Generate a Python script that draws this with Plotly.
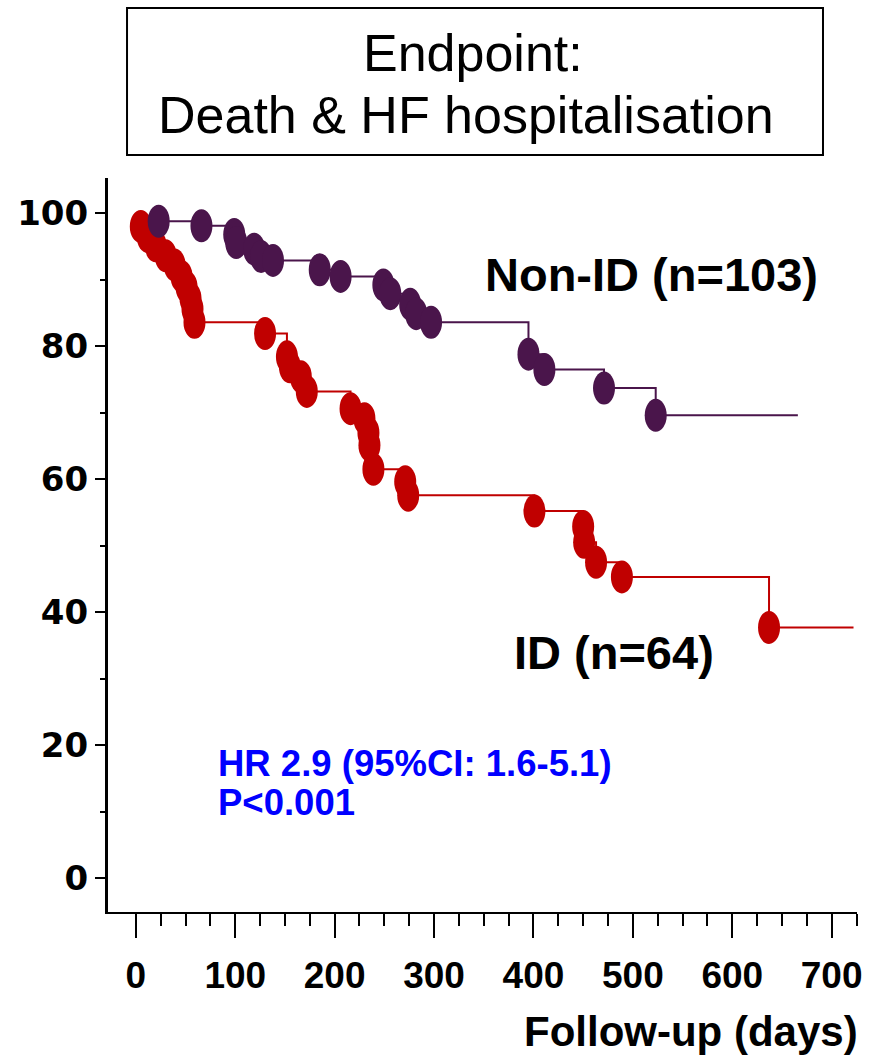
import plotly.graph_objects as go

# Kaplan-Meier style event-free survival (%), event times in days
id_days = [5, 12, 20, 30, 39, 46, 51, 55, 57, 59, 130, 152, 155, 166, 172,
           216, 230, 234, 235, 239, 271, 274, 401, 450, 451, 463, 489, 637]
id_surv = [98.0, 96.5, 95.1, 93.6, 92.2, 90.5, 88.9, 87.2, 85.6, 83.6, 81.9, 78.4,
           76.9, 75.4, 73.2, 70.6, 69.1, 67.0, 65.1, 61.5, 59.6, 57.6, 55.2, 52.9,
           50.5, 47.5, 45.3, 37.7]
id_last_day = 722

nonid_days = [23, 66, 99, 101, 119, 126, 138, 185, 206, 249, 256, 276, 282, 297,
              395, 411, 471, 523]
nonid_surv = [98.8, 98.1, 96.8, 95.6, 94.6, 93.5, 92.9, 91.5, 90.5, 89.2, 87.9,
              86.3, 84.9, 83.6, 78.8, 76.5, 73.7, 69.6]
nonid_last_day = 666

x_ticks = [0, 100, 200, 300, 400, 500, 600, 700]
x_minor_ticks = [d for d in range(25, 726, 25) if d % 100 != 0]
y_ticks = [0, 20, 40, 60, 80, 100]
y_minor_ticks = [10, 30, 50, 70, 90]

RED = "#C00000"
PURPLE = "#4A154B"
BLUE = "#0000FF"
SANS = "Liberation Sans, Arial, sans-serif"

fig = go.Figure()

groups = [
    (id_days, id_surv, id_last_day, RED),
    (nonid_days, nonid_surv, nonid_last_day, PURPLE),
]

for days, surv, last_day, color in groups:
    fig.add_trace(go.Scatter(
        x=days + [last_day], y=surv + [surv[-1]],
        mode="lines", line=dict(shape="hv", color=color, width=2),
        showlegend=False, hoverinfo="skip",
    ))
    # elliptical event markers anchored at each (day, survival) point
    for t, s in zip(days, surv):
        fig.add_shape(
            type="circle", xref="x", yref="y",
            xsizemode="pixel", ysizemode="pixel",
            xanchor=t, yanchor=s, x0=-11, x1=11, y0=-16.5, y1=16.5,
            fillcolor=color, line=dict(width=0), layer="above",
        )

# title box
fig.add_shape(type="rect", xref="paper", yref="paper",
              x0=0.0254, x1=0.9546, y0=1.0313, y1=1.2316,
              line=dict(color="black", width=2), fillcolor="white")

annotations = [
    dict(text="Endpoint:", xref="paper", yref="paper", x=0.4873, y=1.1703,
         xanchor="center", yanchor="middle",
         font=dict(family=SANS, size=52, color="black")),
    dict(text="Death &amp; HF hospitalisation", xref="paper", yref="paper",
         x=0.478, y=1.0858, xanchor="center", yanchor="middle",
         font=dict(family=SANS, size=52, color="black")),
    dict(text="Non-ID (n=103)", xref="x", yref="y", x=518.6, y=90.8,
         xanchor="center", yanchor="middle",
         font=dict(family=SANS, size=47, color="black", weight="bold")),
    dict(text="ID (n=64)", xref="x", yref="y", x=481, y=34.0,
         xanchor="center", yanchor="middle",
         font=dict(family=SANS, size=47, color="black", weight="bold")),
    dict(text="HR 2.9 (95%CI: 1.6-5.1)", xref="x", yref="y", x=80.5, y=17.3,
         xanchor="left", yanchor="middle",
         font=dict(family=SANS, size=36.5, color=BLUE, weight="bold")),
    dict(text="P&lt;0.001", xref="x", yref="y", x=80.5, y=11.3,
         xanchor="left", yanchor="middle",
         font=dict(family=SANS, size=36.5, color=BLUE, weight="bold")),
    dict(text="Follow-up (days)", xref="paper", yref="paper", x=1.004, y=-0.163,
         xanchor="right", yanchor="middle",
         font=dict(family=SANS, size=42, color="black", weight="bold")),
]
for a in annotations:
    a["showarrow"] = False
    fig.add_annotation(**a)

fig.update_xaxes(
    range=[-28, 725.5], showgrid=False, zeroline=False,
    showline=True, linecolor="black", linewidth=2,
    tickvals=x_ticks, ticktext=[str(v) for v in x_ticks],
    ticks="outside", ticklen=24, tickwidth=1.5, tickcolor="black",
    ticklabelstandoff=6,
    tickfont=dict(family=SANS, size=37, color="black", weight="bold"),
    minor=dict(tickvals=x_minor_ticks, ticks="outside", ticklen=12,
               tickwidth=1.5, tickcolor="black"),
)
fig.update_yaxes(
    range=[-5.1, 105.3], showgrid=False, zeroline=False,
    showline=True, linecolor="black", linewidth=3,
    tickvals=y_ticks, ticktext=[str(v) for v in y_ticks],
    ticks="outside", ticklen=10, tickwidth=2, tickcolor="black",
    tickfont=dict(family="DejaVu Sans, sans-serif", size=34, color="black",
                  weight="bold"),
    minor=dict(tickvals=y_minor_ticks, ticks="outside", ticklen=5,
               tickwidth=2, tickcolor="black"),
)

fig.update_layout(
    width=874, height=1057,
    margin=dict(l=108, r=17, t=178, b=145),
    paper_bgcolor="white", plot_bgcolor="white",
    showlegend=False,
)

fig.write_html("out.html")
